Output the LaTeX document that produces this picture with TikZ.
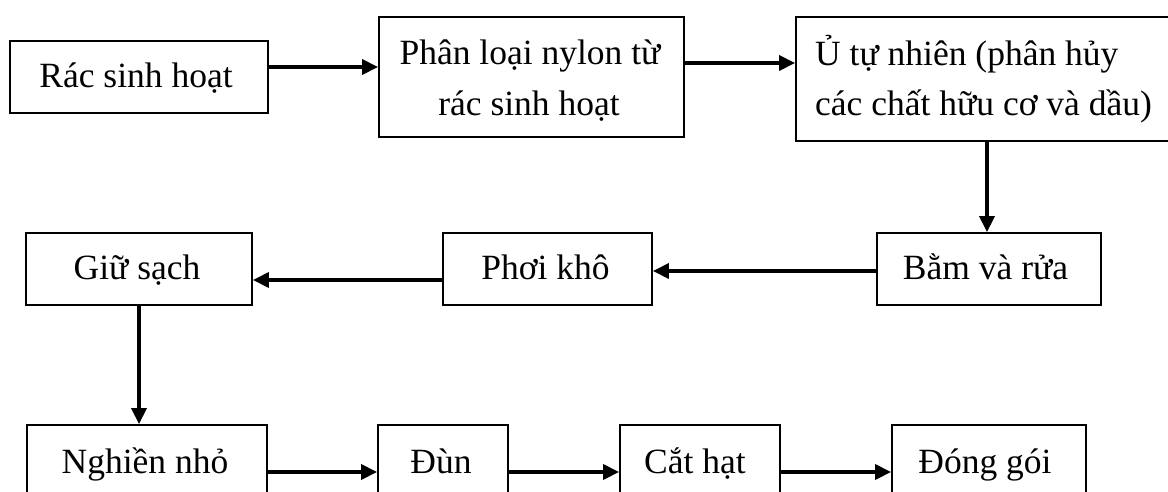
\documentclass[tikz,border=0pt]{standalone}
\usepackage{fontspec}
\setmainfont{Liberation Serif}
\usetikzlibrary{arrows.meta}
\begin{document}
\begin{tikzpicture}[x=1pt,y=-1pt,
  stepbox/.style={draw, line width=1.8pt, inner sep=0pt, minimum height=72pt},
  lbl/.style={inner sep=0pt, anchor=base, font=\fontsize{35.5}{42}\selectfont},
  lblw/.style={lbl, anchor=base west},
  arr/.style={line width=3.4pt, -{Triangle[length=16pt,width=15pt]}}]
\useasboundingbox (0,0) rectangle (1168,491);
\clip (0,0) rectangle (1168,491);

% top row
\node[stepbox, minimum width=258pt] (rac) at (139,77) {};
\node[stepbox, minimum width=305pt, minimum height=120pt] (phan) at (531.5,77) {};
\node[stepbox, minimum width=389pt, minimum height=124pt] (u) at (990.5,79) {};

% middle row
\node[stepbox, minimum width=224pt] (bam) at (989,269) {};
\node[stepbox, minimum width=209pt] (phoi) at (547.5,269) {};
\node[stepbox, minimum width=226pt] (giu) at (139,269) {};

% bottom row (runs past the lower edge)
\node[stepbox, minimum width=240pt, minimum height=85pt] (nghien) at (147,467.5) {};
\node[stepbox, minimum width=130pt, minimum height=85pt] (dun) at (443,467.5) {};
\node[stepbox, minimum width=160pt, minimum height=85pt] (cat) at (700,467.5) {};
\node[stepbox, minimum width=194pt, minimum height=85pt] (dong) at (989,467.5) {};

% labels
\node[lbl] (trac) at (136,87) {Rác sinh hoạt};
\node[lbl] (tphan1) at (530,64) {Phân loại nylon từ};
\node[lbl] (tphan2) at (529,115) {rác sinh hoạt};
\node[lblw] (tu1) at (815,65) {Ủ tự nhiên (phân hủy};
\node[lblw] (tu2) at (815,115) {các chất hữu cơ và dầu)};
\node[lbl] (tbam) at (985.5,279) {Bằm và rửa};
\node[lbl] (tphoi) at (545.5,279) {Phơi khô};
\node[lbl] (tgiu) at (137,279) {Giữ sạch};
\node[lbl] (tnghien) at (145,473) {Nghiền nhỏ};
\node[lbl] (tdun) at (441,473) {Đùn};
\node[lbl] (tcat) at (695,473) {Cắt hạt};
\node[lbl] (tdong) at (985,473) {Đóng gói};

% connectors
\draw[arr] (rac.east |- 0,67) -- (phan.west |- 0,67);
\draw[arr] (phan.east |- 0,63) -- (u.west |- 0,63);
\draw[arr] (u.south -| 987,0) -- (bam.north -| 987,0);
\draw[arr] (bam.west |- 0,271) -- (phoi.east |- 0,271);
\draw[arr] (phoi.west |- 0,280) -- (giu.east |- 0,280);
\draw[arr] (giu.south) -- (giu.south |- nghien.north);
\draw[arr] (nghien.east |- 0,472) -- (dun.west |- 0,472);
\draw[arr] (dun.east |- 0,472) -- (cat.west |- 0,472);
\draw[arr] (cat.east |- 0,472) -- (dong.west |- 0,472);
\end{tikzpicture}
\end{document}
